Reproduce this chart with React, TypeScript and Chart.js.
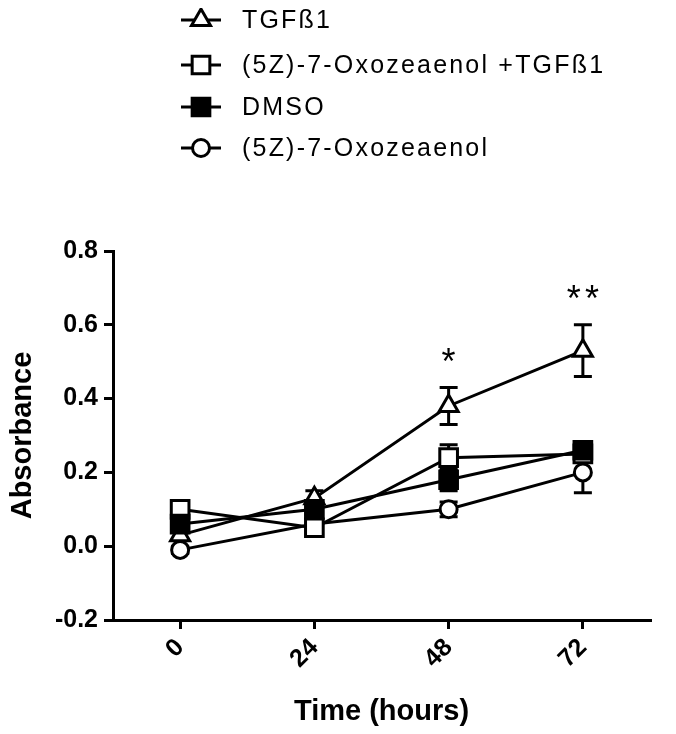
import React, { useEffect, useRef } from "react";
import { Chart, registerables } from "chart.js";

Chart.register(...registerables);

const timePoints = [0, 24, 48, 72];
const seriesNames = ["TGFß1", "(5Z)-7-Oxozeaenol +TGFß1", "DMSO", "(5Z)-7-Oxozeaenol"];
const tgfMean = [0.03, 0.13, 0.38, 0.53];
const tgfErr = [0.01, 0.02, 0.05, 0.07];
const oxoTgfMean = [0.1, 0.05, 0.24, 0.25];
const oxoTgfErr = [0.015, 0.01, 0.035, 0.02];
const dmsoMean = [0.06, 0.1, 0.18, 0.26];
const dmsoErr = [0.02, 0.01, 0.03, 0.02];
const oxoMean = [-0.01, 0.06, 0.1, 0.2];
const oxoErr = [0.01, 0.01, 0.02, 0.055];
const significance = ["", "", "*", "**"];
const yTicks = [-0.2, 0, 0.2, 0.4, 0.6, 0.8];
const xTicks = [0, 24, 48, 72];

const FONT = "'Liberation Sans', Arial, Helvetica, sans-serif";

type Marker = { style: string; fill: string; radius: number; order: number };
const markers: Marker[] = [
  { style: "triangle", fill: "#ffffff", radius: 11, order: 1 },
  { style: "rect", fill: "#ffffff", radius: 12.5, order: 2 },
  { style: "rect", fill: "#000000", radius: 12.5, order: 0 },
  { style: "circle", fill: "#ffffff", radius: 8.5, order: 3 },
];

function drawMarker(ctx: CanvasRenderingContext2D, m: Marker, x: number, y: number) {
  ctx.save();
  ctx.beginPath();
  const r = m.radius;
  if (m.style === "triangle") {
    let rad = 0;
    ctx.moveTo(x + Math.sin(rad) * r, y - Math.cos(rad) * r);
    rad += (2 * Math.PI) / 3;
    ctx.lineTo(x + Math.sin(rad) * r, y - Math.cos(rad) * r);
    rad += (2 * Math.PI) / 3;
    ctx.lineTo(x + Math.sin(rad) * r, y - Math.cos(rad) * r);
    ctx.closePath();
  } else if (m.style === "rect") {
    const s = r * Math.SQRT1_2;
    ctx.rect(x - s, y - s, 2 * s, 2 * s);
  } else {
    ctx.arc(x, y, r, 0, Math.PI * 2);
  }
  ctx.fillStyle = m.fill;
  ctx.fill();
  ctx.lineWidth = 3;
  ctx.strokeStyle = "#000";
  ctx.stroke();
  ctx.restore();
}

const errorBarPlugin = {
  id: "errorBars",
  beforeDatasetsDraw(chart: any) {
    const ctx = chart.ctx as CanvasRenderingContext2D;
    const yScale = chart.scales.y;
    ctx.save();
    ctx.strokeStyle = "#000";
    ctx.lineWidth = 3;
    chart.data.datasets.forEach((ds: any, di: number) => {
      const meta = chart.getDatasetMeta(di);
      meta.data.forEach((el: any, i: number) => {
        const mean = ds.data[i].y;
        const err = ds.errors[i];
        const yTop = yScale.getPixelForValue(mean + err);
        const yBot = yScale.getPixelForValue(mean - err);
        const x = el.x;
        const cap = 9;
        ctx.beginPath();
        ctx.moveTo(x, yTop);
        ctx.lineTo(x, yBot);
        ctx.moveTo(x - cap, yTop);
        ctx.lineTo(x + cap, yTop);
        ctx.moveTo(x - cap, yBot);
        ctx.lineTo(x + cap, yBot);
        ctx.stroke();
      });
    });
    ctx.restore();
  },
};

const annotationPlugin = {
  id: "annotations",
  afterDatasetsDraw(chart: any) {
    const ctx = chart.ctx as CanvasRenderingContext2D;
    const xScale = chart.scales.x;
    const yScale = chart.scales.y;
    ctx.save();
    ctx.fillStyle = "#000";
    ctx.font = `36px ${FONT}`;
    ctx.textAlign = "center";
    ctx.textBaseline = "alphabetic";
    (ctx as any).letterSpacing = "4px";
    significance.forEach((s, i) => {
      if (!s) return;
      const x = xScale.getPixelForValue(timePoints[i]);
      const y = yScale.getPixelForValue(tgfMean[i] + tgfErr[i]);
      ctx.fillText(s, x + 2, y - 14);
    });
    ctx.restore();
  },
};

const legendPlugin = {
  id: "customLegend",
  afterDraw(chart: any) {
    const ctx = chart.ctx as CanvasRenderingContext2D;
    const rows = [12, 57, 99, 140];
    ctx.save();
    seriesNames.forEach((name, i) => {
      const y = rows[i];
      ctx.beginPath();
      ctx.strokeStyle = "#000";
      ctx.lineWidth = 3;
      ctx.moveTo(173, y);
      ctx.lineTo(213, y);
      ctx.stroke();
      drawMarker(ctx, markers[i], 193, y);
      ctx.fillStyle = "#000";
      ctx.font = `25px ${FONT}`;
      (ctx as any).letterSpacing = "2.2px";
      ctx.textAlign = "left";
      ctx.textBaseline = "middle";
      ctx.fillText(name, 234, y + 1);
    });
    ctx.restore();
  },
};

const seriesMeans = [tgfMean, oxoTgfMean, dmsoMean, oxoMean];
const seriesErrs = [tgfErr, oxoTgfErr, dmsoErr, oxoErr];

export default function App() {
  const canvasRef = useRef<HTMLCanvasElement | null>(null);

  useEffect(() => {
    if (!canvasRef.current) return;
    const datasets = seriesNames.map((name, si) => ({
      label: name,
      data: timePoints.map((t, i) => ({ x: t, y: seriesMeans[si][i] })),
      errors: seriesErrs[si],
      order: markers[si].order,
      borderColor: "#000",
      borderWidth: 3,
      pointStyle: markers[si].style,
      pointRadius: markers[si].radius,
      pointHoverRadius: markers[si].radius,
      pointBackgroundColor: markers[si].fill,
      pointBorderColor: "#000",
      pointBorderWidth: 3,
      fill: false,
      tension: 0,
    }));

    const chart = new Chart(canvasRef.current, {
      type: "line",
      data: { datasets } as any,
      plugins: [errorBarPlugin, annotationPlugin, legendPlugin],
      options: {
        animation: false,
        responsive: false,
        maintainAspectRatio: false,
        layout: { padding: { top: 243, right: 18, left: 0, bottom: 0 } },
        plugins: { legend: { display: false }, tooltip: { enabled: false } },
        scales: {
          x: {
            type: "linear",
            min: -12,
            max: 84,
            afterBuildTicks: (scale: any) => {
              scale.ticks = xTicks.map((v) => ({ value: v }));
            },
            afterFit: (scale: any) => {
              scale.height = 106;
            },
            ticks: {
              minRotation: 45,
              maxRotation: 45,
              color: "#000",
              font: { family: FONT, size: 25, weight: "bold" },
              padding: 4,
            },
            grid: {
              display: true,
              drawOnChartArea: false,
              drawTicks: true,
              tickLength: 9,
              lineWidth: 3,
              color: "#000",
            },
            border: { display: true, width: 3, color: "#000" },
            title: {
              display: true,
              text: "Time (hours)",
              color: "#000",
              font: { family: FONT, size: 29, weight: "bold", lineHeight: 1 },
              padding: 0,
            },
          },
          y: {
            min: -0.2,
            max: 0.8,
            afterBuildTicks: (scale: any) => {
              scale.ticks = yTicks.map((v) => ({ value: v }));
            },
            afterFit: (scale: any) => {
              scale.width = 105;
            },
            ticks: {
              color: "#000",
              font: { family: FONT, size: 25, weight: "bold" },
              padding: 6,
              callback: (v: any) => Number(v).toFixed(1),
            },
            grid: {
              display: true,
              drawOnChartArea: false,
              drawTicks: true,
              tickLength: 9,
              lineWidth: 3,
              color: "#000",
            },
            border: { display: true, width: 3, color: "#000" },
            title: {
              display: true,
              text: "Absorbance",
              color: "#000",
              font: { family: FONT, size: 29, weight: "bold", lineHeight: 1 },
              padding: 0,
            },
          },
        },
      } as any,
    });
    return () => chart.destroy();
  }, []);

  return (
    <div style={{ width: 660, height: 718 }}>
      <canvas ref={canvasRef} width={660} height={718} style={{ display: "block" }} />
    </div>
  );
}
